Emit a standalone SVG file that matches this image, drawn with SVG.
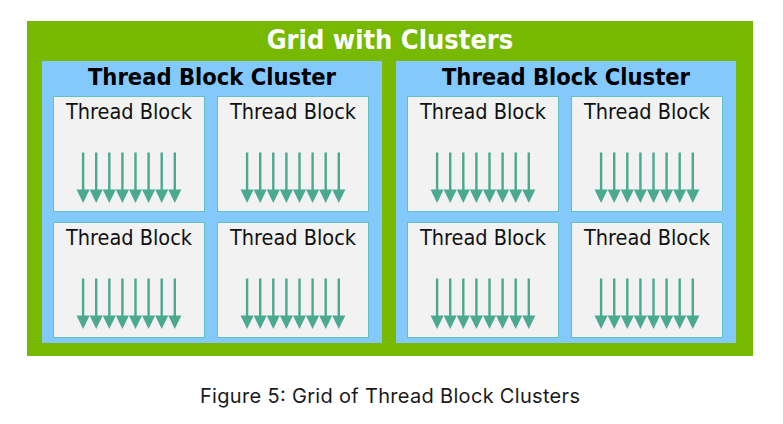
<svg xmlns="http://www.w3.org/2000/svg" xmlns:xlink="http://www.w3.org/1999/xlink" width="783" height="424" viewBox="0 0 783 424">
<style>
.grid{fill:#76b900}
.cluster{fill:#84c9fb}
.block{fill:#f2f2f2;stroke:#62c0c0;stroke-width:1}
.title{font-family:"DejaVu Sans Condensed","DejaVu Sans",sans-serif;font-weight:bold;fill:#ffffff;font-size:27px;text-anchor:middle}
.ctitle{font-family:"DejaVu Sans Condensed","DejaVu Sans",sans-serif;font-weight:bold;fill:#000000;font-size:23.5px;text-anchor:middle}
.btitle{font-family:"DejaVu Sans Condensed","DejaVu Sans",sans-serif;fill:#111111;font-size:21.5px;text-anchor:middle}
.caption{font-family:Inter,"Liberation Sans",sans-serif;fill:#1a1a1a;font-size:20px;text-anchor:middle}
.shaft{stroke:#4aa98f;stroke-width:2.4;fill:none}
.head{fill:#4aa98f}
</style>
<defs>
<g id="thr">
<line class="shaft" x1="0" y1="56" x2="0" y2="95"/>
<polygon class="head" points="-6.55,93 6.55,93 0,106.5"/>
</g>
<g id="threads">
<use xlink:href="#thr" x="29.6"/>
<use xlink:href="#thr" x="42.7"/>
<use xlink:href="#thr" x="55.8"/>
<use xlink:href="#thr" x="68.9"/>
<use xlink:href="#thr" x="82.0"/>
<use xlink:href="#thr" x="95.1"/>
<use xlink:href="#thr" x="108.2"/>
<use xlink:href="#thr" x="121.3"/>
</g>
<g id="tb">
<rect class="block" x="0" y="0" width="151" height="115"/>
<text class="btitle" x="75.5" y="22">Thread Block</text>
<use xlink:href="#threads"/>
</g>
</defs>
<rect width="783" height="424" fill="#ffffff"/>
<g id="grid">
<rect class="grid" x="27" y="21" width="726" height="335"/>
<text class="title" x="390" y="49">Grid with Clusters</text>
</g>
<g id="cluster1">
<rect class="cluster" x="42" y="61" width="340" height="282"/>
<text class="ctitle" x="212" y="85">Thread Block Cluster</text>
</g>
<g id="cluster2">
<rect class="cluster" x="396" y="61" width="340" height="282"/>
<text class="ctitle" x="566" y="85">Thread Block Cluster</text>
</g>
<g id="block1-1"><use xlink:href="#tb" x="53.5" y="96.5"/></g>
<g id="block1-2"><use xlink:href="#tb" x="217.5" y="96.5"/></g>
<g id="block1-3"><use xlink:href="#tb" x="53.5" y="222.5"/></g>
<g id="block1-4"><use xlink:href="#tb" x="217.5" y="222.5"/></g>
<g id="block2-1"><use xlink:href="#tb" x="407.5" y="96.5"/></g>
<g id="block2-2"><use xlink:href="#tb" x="571.5" y="96.5"/></g>
<g id="block2-3"><use xlink:href="#tb" x="407.5" y="222.5"/></g>
<g id="block2-4"><use xlink:href="#tb" x="571.5" y="222.5"/></g>
<g id="connectors"></g>
<text class="caption" x="390" y="403" textLength="380">Figure 5: Grid of Thread Block Clusters</text>
</svg>
